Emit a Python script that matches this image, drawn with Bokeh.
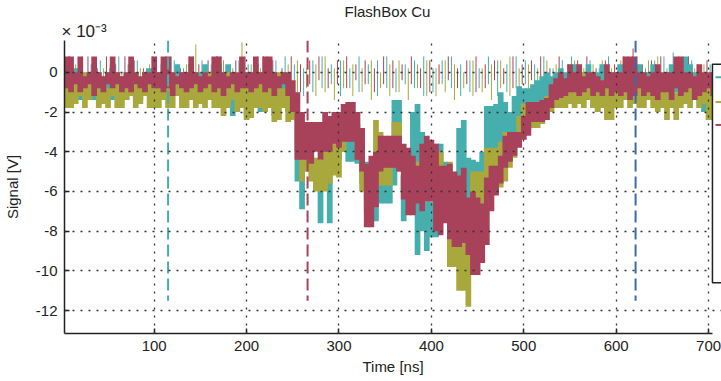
from bokeh.plotting import figure
from bokeh.models import Range1d, FixedTicker, Title
from bokeh.embed import file_html
from bokeh.resources import INLINE

# ---------------- data (signal in units of 1e-3 V) ----------------
time_ns = list(range(5, 706, 5))          # 5 ns bins
thin_time_ns = list(range(5, 706, 10))    # thin trace samples

teal_hi = [0.0, -0.4, 0.2, 0.0, -0.4, 0.0, 0.4, 0.0, -0.2, 0.0,
           0.4, 0.0, -0.2, 0.0, 0.4, 0.0, -0.4, 0.0, 0.2, 0.0,
           0.0, 0.4, 0.0, -0.2, 0.4, 0.0, 0.0, 0.4, -0.2, 0.0,
           0.4, 0.0, -0.2, 0.4, 0.0, 0.4, 0.0, -0.2, 0.4, 0.0,
           0.0, 0.4, 0.0, -0.2, 0.4, 0.0, -0.4, 0.0, -0.6, -1.0,
           -2.0, -3.5, -4.0, -4.2, -4.5, -5.0, -3.5, -4.5, -3.2, -3.0,
           -2.4, -2.7, -2.7, -2.8, -3.5, -4.5, -5.5, -5.5, -5.5, -5.5,
           -4.4, -1.4, -1.4, -5.2, -5.0, -2.0, -1.6, -3.0, -6.5, -6.5,
           -3.6, -3.6, -4.5, -8.6, -8.4, -2.8, -2.4, -4.3, -4.4, -4.5,
           -4.0, -1.7, -1.7, -1.6, -1.0, -1.5, -2.0, -1.2, -0.7, -0.8,
           -0.8, -0.6, -0.4, -0.2, 0.0, -0.2, 0.0, 0.2, 0.0, 0.0,
           0.4, 0.0, 0.0, 0.4, -0.2, 0.0, 0.4, 0.0, -0.2, 0.0,
           0.4, 0.0, 0.0, -0.2, 0.4, 0.0, 0.0, 0.4, 0.0, -0.2,
           0.0, 0.4, 0.0, 0.4, 0.8, 0.4, 0.0, -0.4, -0.6, -0.4,
           0.0]
teal_lo = [-1.2, -1.0, -1.4, -1.4, -1.4, -1.2, -1.4, -0.8, -1.2, -1.0,
           -1.4, -1.2, -1.0, -1.4, -1.2, -0.8, -1.4, -1.2, -1.0, -1.4,
           -1.2, -1.0, -1.4, -1.2, -1.0, -1.4, -1.2, -1.0, -1.4, -1.2,
           -1.0, -1.4, -1.2, -1.0, -1.4, -1.2, -2.2, -1.4, -1.2, -2.2,
           -1.4, -1.2, -2.0, -1.4, -1.2, -2.2, -1.4, -1.6, -2.0, -2.4,
           -5.5, -6.9, -5.0, -5.0, -5.6, -7.6, -5.2, -7.6, -5.0, -4.4,
           -4.0, -4.5, -4.5, -4.6, -5.6, -6.4, -7.5, -7.5, -6.6, -6.6,
           -6.6, -5.7, -5.0, -7.5, -7.0, -5.5, -9.2, -8.0, -9.0, -8.3,
           -8.3, -5.0, -7.0, -9.8, -9.8, -6.8, -6.0, -7.0, -7.0, -7.0,
           -6.0, -6.0, -4.0, -4.0, -4.0, -4.2, -4.5, -3.0, -2.8, -2.6,
           -2.0, -1.8, -1.6, -1.4, -1.4, -1.6, -1.4, -1.2, -1.4, -1.2,
           -1.2, -1.4, -1.0, -1.4, -1.8, -2.0, -1.4, -1.2, -1.4, -1.0,
           -1.4, -1.2, -1.0, -1.4, -1.2, -1.0, -1.4, -1.2, -1.4, -1.0,
           -1.2, -1.4, -1.0, -1.2, -1.4, -1.0, -1.4, -1.8, -2.0, -2.0,
           -1.8]

olive_hi = [-0.4, -0.2, -0.6, -0.4, 0.0, -0.4, -0.6, -0.2, -0.4, -0.8,
            -0.4, 0.0, -0.6, -0.4, -0.2, -0.6, -0.4, 0.0, -0.4, -0.6,
            -0.4, -0.2, -0.4, 0.0, -0.6, -0.4, -0.2, -0.4, 0.0, -0.6,
            -0.4, 0.0, -0.2, -0.6, -0.4, 0.0, -0.4, -0.6, 0.4, -0.2,
            -0.4, -0.2, 0.0, -0.4, -0.6, -0.4, 0.0, -0.8, -1.0, -1.2,
            -2.0, -4.0, -4.2, -4.3, -4.3, -4.4, -4.0, -4.0, -3.2, -3.2,
            -2.8, -2.5, -2.5, -2.6, -4.0, -4.8, -4.8, -2.4, -3.0, -4.0,
            -4.0, -2.5, -2.5, -5.2, -5.2, -4.5, -4.5, -4.5, -5.2, -4.5,
            -4.5, -4.0, -5.0, -4.5, -5.5, -8.6, -8.6, -7.0, -5.0, -5.0,
            -5.0, -3.8, -3.8, -3.8, -3.5, -3.0, -3.0, -3.0, -2.2, -1.6,
            -1.5, -1.5, -1.5, -1.4, -1.2, -0.8, -0.6, -0.4, -0.6, -0.4,
            -0.4, -0.6, 0.0, -0.4, -0.2, -0.6, -0.4, -0.8, -1.0, -0.4,
            -0.2, -0.4, 0.0, -0.6, -0.4, 0.0, -0.4, -0.2, -0.6, -0.4,
            -0.6, -0.4, -1.0, -0.2, -0.4, 0.0, -0.6, -0.4, -0.2, -0.6,
            -0.8]
olive_lo = [-1.8, -1.8, -1.6, -1.2, -1.8, -1.4, -1.2, -1.8, -1.6, -1.8,
            -1.2, -1.8, -1.8, -1.4, -1.2, -1.8, -1.6, -1.2, -1.8, -1.8,
            -1.8, -1.4, -1.8, -1.8, -1.2, -1.8, -1.8, -1.4, -1.8, -1.6,
            -1.8, -1.4, -1.8, -1.8, -2.2, -1.8, -1.4, -2.0, -1.8, -2.4,
            -2.3, -1.8, -1.8, -2.0, -1.8, -2.5, -2.4, -1.8, -2.5, -2.4,
            -4.0, -5.5, -5.0, -5.5, -6.0, -6.0, -6.0, -5.6, -5.2, -5.3,
            -4.0, -3.3, -3.4, -3.6, -6.0, -7.1, -7.1, -5.3, -5.7, -5.7,
            -5.7, -4.3, -4.4, -6.0, -6.0, -6.5, -6.5, -6.5, -6.5, -6.0,
            -6.0, -6.5, -7.5, -9.8, -9.8, -11.0, -11.0, -11.8, -8.0, -8.0,
            -7.5, -6.7, -6.0, -6.0, -5.8, -5.5, -4.8, -4.3, -3.5, -3.2,
            -2.9, -2.8, -2.8, -2.6, -2.4, -2.0, -1.8, -1.8, -1.8, -1.6,
            -1.8, -1.6, -1.8, -1.4, -1.8, -2.0, -1.8, -2.4, -2.4, -1.8,
            -1.8, -1.4, -1.8, -1.6, -1.8, -1.8, -1.4, -1.8, -2.0, -1.8,
            -2.4, -1.8, -2.4, -1.8, -1.6, -1.8, -1.4, -1.8, -1.6, -2.4,
            -2.4]

red_hi = [0.8, 0.8, 0.0, 0.8, -0.2, 0.0, 0.8, 0.0, -0.2, 0.0,
          0.8, 0.0, -0.2, 0.0, 0.8, 0.0, -0.2, 0.0, 0.0, 0.8,
          0.0, 0.8, 0.8, 0.0, -0.2, 0.0, 0.0, 0.8, 0.0, -0.2,
          0.0, -0.2, 0.8, 0.8, 0.0, -0.2, 0.0, 0.0, 0.8, 0.0,
          0.0, 0.8, 0.0, 0.8, 0.8, 0.0, -0.2, 0.0, 0.0, -0.4,
          -1.0, -2.0, -2.5, -2.5, -2.5, -2.5, -2.0, -2.2, -2.0, -2.0,
          -1.6, -1.5, -1.5, -2.0, -2.8, -4.6, -4.2, -4.0, -3.2, -3.2,
          -3.2, -3.2, -3.2, -3.6, -3.8, -4.2, -4.7, -3.6, -3.2, -3.4,
          -3.6, -4.7, -4.7, -4.6, -5.0, -5.2, -4.8, -6.3, -6.0, -6.3,
          -6.6, -5.3, -4.7, -4.7, -4.2, -3.2, -3.0, -3.0, -3.0, -2.2,
          -1.5, -1.5, -1.5, -1.4, -1.3, -0.6, -0.3, 0.0, -0.3, 0.4,
          0.0, 0.4, -0.2, 0.0, 0.0, -0.2, -0.4, 0.4, 0.0, 0.0,
          0.0, 0.8, 0.8, 0.8, 0.0, 0.0, -0.2, 0.0, 0.4, 0.0,
          0.0, 0.0, 0.8, 0.8, 0.0, 0.0, -0.2, 0.4, 0.0, 0.0,
          0.0]
red_lo = [-0.8, -1.0, -0.6, -1.0, -0.8, -0.6, -1.2, -0.8, -1.0, -0.6,
          -0.8, -0.6, -1.0, -0.8, -1.0, -0.6, -0.8, -1.0, -0.6, -0.8,
          -0.8, -1.0, -0.8, -1.2, -0.6, -0.8, -1.0, -0.8, -0.6, -1.0,
          -0.8, -0.6, -1.0, -0.8, -1.2, -0.8, -0.6, -1.0, -0.8, -0.8,
          -1.0, -0.8, -0.6, -1.0, -0.8, -1.2, -0.8, -0.6, -1.2, -2.0,
          -4.4, -4.4, -4.4, -4.6, -4.0, -4.4, -4.0, -4.0, -3.6, -3.8,
          -3.5, -3.5, -3.5, -4.4, -5.0, -7.8, -7.8, -6.8, -5.0, -4.8,
          -4.8, -4.8, -5.0, -6.4, -7.2, -7.2, -6.6, -7.0, -6.5, -6.5,
          -8.0, -8.2, -7.6, -8.4, -8.8, -8.8, -8.6, -9.2, -10.2, -10.2,
          -9.6, -8.7, -7.0, -6.2, -5.6, -4.8, -4.5, -4.2, -3.8, -3.4,
          -3.2, -2.5, -2.5, -2.5, -2.4, -1.8, -1.4, -1.3, -1.2, -1.0,
          -1.0, -1.2, -1.0, -0.8, -1.2, -1.0, -1.2, -0.8, -1.2, -1.0,
          -1.2, -1.0, -1.4, -1.2, -0.8, -1.2, -1.0, -1.2, -1.4, -1.0,
          -1.0, -1.4, -0.8, -1.2, -1.0, -0.8, -1.4, -1.2, -1.0, -0.8,
          -1.2]

teal_thin_hi = [0.6, 0.2, 0.8, 0.4, 0.6, 0.2, 0.8, 0.4, 0.6, 0.2,
                0.8, 0.4, 0.6, 0.2, 0.8, 0.6, 0.4, 0.8, 0.2, 0.6,
                0.4, 0.8, 0.2, 0.6, 0.8, 0.4, 0.2, 0.6, 0.8, 0.4,
                0.6, 0.2, 0.8, 0.4, 0.6, 0.8, 0.2, 0.4, 0.6, 0.8,
                0.2, 0.6, 0.8, 0.4, 0.6, 0.2, 0.8, 0.6, 0.4, 0.8,
                0.6, 0.4, 0.8, 0.2, 0.6, 0.8, 0.4, 0.6, 0.2, 0.8,
                0.4, 0.6, 0.8, 0.2, 0.6, 0.8, 1.0, 0.4, 0.6, 0.2,
                0.4]
teal_thin_lo = [-1.0, -0.8, -1.2, -0.6, -1.0, -0.8, -1.2, -0.6, -1.0, -0.8,
                -0.6, -1.0, -0.8, -1.2, -0.6, -1.0, -0.8, -1.2, -0.6, -1.0,
                -0.8, -1.2, -0.6, -1.0, -0.8, -0.6, -1.2, -1.0, -0.8, -0.6,
                -1.2, -0.8, -1.0, -0.6, -1.2, -0.8, -1.0, -0.6, -0.8, -1.2,
                -1.0, -0.6, -0.8, -1.2, -1.0, -0.8, -0.6, -1.2, -1.0, -0.8,
                -0.6, -1.0, -1.2, -0.8, -0.6, -1.0, -0.8, -1.2, -0.6, -1.0,
                -0.8, -1.2, -0.6, -1.0, -0.8, -1.2, -1.0, -0.6, -0.8, -1.0,
                -1.0]
olive_thin_hi = [0.2, 0.4, 0.0, 0.6, 0.2, 0.4, 0.0, 0.6, 0.2, 0.4,
                 0.0, 0.6, 0.2, 0.4, 1.4, 0.2, 0.4, 0.6, 0.2, 1.5,
                 0.4, 0.2, 0.6, 0.0, 0.4, 0.6, 0.2, 0.4, 0.8, 0.2,
                 0.6, 0.4, 0.2, 0.6, 0.0, 0.4, 0.6, 0.2, 0.4, 0.6,
                 0.2, 0.6, 0.4, 0.0, 0.6, 0.2, 0.4, 0.6, 0.8, 0.2,
                 0.4, 0.2, 0.6, 0.4, 0.0, 0.6, 0.2, 0.4, 0.6, 0.2,
                 0.6, 0.2, 0.4, 0.6, 0.8, 0.2, 0.4, 0.6, 0.2, 0.4,
                 0.2]
olive_thin_lo = [-1.2, -1.0, -1.4, -0.8, -1.2, -1.0, -1.4, -0.8, -1.2, -1.0,
                 -1.4, -0.8, -1.2, -1.0, -1.4, -0.8, -1.2, -1.0, -1.4, -0.8,
                 -1.0, -1.4, -0.8, -1.2, -1.0, -1.4, -0.8, -1.2, -1.0, -1.4,
                 -0.8, -1.2, -1.0, -1.4, -0.8, -1.2, -1.0, -1.4, -0.8, -1.2,
                 -1.2, -1.0, -1.4, -0.8, -1.2, -1.0, -1.4, -0.8, -1.2, -1.0,
                 -1.4, -0.8, -1.2, -1.0, -1.4, -0.8, -1.2, -1.0, -1.4, -0.8,
                 -1.0, -1.4, -0.8, -1.2, -1.0, -1.4, -0.8, -1.2, -1.0, -1.4,
                 -1.2]
red_thin_hi = [0.8, 0.6, 0.8, 0.2, 0.8, 0.4, 0.8, 0.6, 0.2, 0.8,
               0.6, 0.8, 0.2, 0.8, 0.4, 0.6, 0.8, 0.2, 0.6, 0.8,
               0.4, 0.8, 0.6, 0.2, 0.8, 0.4, 0.6, 0.8, 0.2, 0.6,
               0.8, 0.4, 0.6, 0.2, 0.8, 0.6, 0.4, 0.8, 0.2, 0.6,
               0.4, 0.8, 0.2, 0.6, 0.8, 0.4, 0.6, 0.2, 0.8, 0.4,
               0.6, 0.8, 0.2, 0.8, 0.4, 0.6, 0.8, 0.2, 0.6, 0.4,
               0.8, 1.2, 0.4, 0.6, 0.8, 0.2, 0.6, 0.8, 0.4, 0.6,
               0.2]
red_thin_lo = [-0.6, -0.8, -0.4, -0.8, -0.6, -0.8, -0.4, -0.6, -0.8, -0.6,
               -0.8, -0.4, -0.6, -0.8, -0.6, -0.4, -0.8, -0.6, -0.8, -0.4,
               -0.6, -0.8, -0.4, -0.6, -0.8, -1.0, -0.6, -0.4, -0.8, -0.6,
               -0.8, -0.4, -0.6, -1.0, -0.6, -0.8, -0.4, -0.6, -0.8, -1.0,
               -0.6, -0.4, -0.8, -0.6, -1.0, -0.8, -0.4, -0.6, -0.8, -0.6,
               -0.4, -0.8, -0.6, -0.8, -0.4, -0.6, -0.8, -1.0, -0.6, -0.8,
               -0.6, -0.4, -0.8, -0.6, -1.0, -0.8, -0.6, -0.4, -0.8, -0.6,
               -0.6]

marker_time_ns = [115, 266, 621]
marker_bottom = -11.5

x_ticks = [100, 200, 300, 400, 500, 600, 700]
y_ticks = [-12, -10, -8, -6, -4, -2, 0]
y_tick_labels = ["-12", "-10", "-8", "-6", "-4", "-2", "0"]

# ---------------- styles ----------------
TEAL = "#47AEAE"
OLIVE = "#A9A83C"
RED = "#A8425A"
BLUE = "#3A6CA6"
marker_colors = [TEAL, RED, BLUE]
FONT = "Liberation Sans"
INK = "#222222"
BIN_W = 6.2

p = figure(width=721, height=381, output_backend="svg", toolbar_location=None,
           title=None,
           x_range=Range1d(2.9, 714.0), y_range=Range1d(-13.15, 1.6),
           min_border_left=62, min_border_right=0, min_border_top=38,
           min_border_bottom=48, outline_line_color=None,
           background_fill_color="white", border_fill_color="white")

# thin traces (drawn under the thick ones)
thin_offsets = [-3.3, 0.0, 3.3]
for (hi, lo, c, off) in [(teal_thin_hi, teal_thin_lo, TEAL, thin_offsets[0]),
                         (olive_thin_hi, olive_thin_lo, OLIVE, thin_offsets[1]),
                         (red_thin_hi, red_thin_lo, RED, thin_offsets[2])]:
    xs = [t + off for t in thin_time_ns]
    p.segment(x0=xs, y0=lo, x1=xs, y1=hi, line_color=c, line_width=1)

# thick traces
for (hi, lo, c) in [(teal_hi, teal_lo, TEAL), (olive_hi, olive_lo, OLIVE), (red_hi, red_lo, RED)]:
    p.vbar(x=time_ns, width=BIN_W, top=hi, bottom=lo, fill_color=c, line_color=None)

# dashed markers
p.segment(x0=marker_time_ns, y0=[1.6] * 3, x1=marker_time_ns, y1=[marker_bottom] * 3,
          line_color=marker_colors, line_width=2, line_dash="12 5")

# axes
for ax in (p.xaxis, p.yaxis):
    ax.major_tick_in = 5
    ax.major_tick_out = 0
    ax.minor_tick_line_color = None
    ax.axis_line_color = INK
    ax.axis_line_width = 1.5
    ax.major_tick_line_color = INK
    ax.major_tick_line_width = 1.5
    ax.major_label_text_font = FONT
    ax.major_label_text_font_size = "15px"
    ax.major_label_text_color = INK
    ax.axis_label_text_font = FONT
    ax.axis_label_text_font_size = "15px"
    ax.axis_label_text_font_style = "normal"
    ax.axis_label_text_color = INK
p.xaxis.ticker = FixedTicker(ticks=x_ticks)
p.yaxis.ticker = FixedTicker(ticks=y_ticks)
p.yaxis.major_label_overrides = {v: s for v, s in zip(y_ticks, y_tick_labels)}
p.xaxis.bounds = (2.9, 704.5)
p.xaxis.axis_label = "Time [ns]"
p.yaxis.axis_label = "Signal [V]"
p.xaxis.major_label_standoff = 7
p.yaxis.major_label_standoff = 7
p.yaxis.axis_label_standoff = 12
p.xaxis.axis_label_standoff = 4

p.grid.grid_line_color = "#333333"
p.grid.grid_line_width = 1.3
p.grid.grid_line_dash = "2 6"
p.grid.level = "guide"

# legend box (cut off at right edge)
lg = p.quad(left=[704.2], right=[730], top=[0.4], bottom=[-10.6],
            fill_color="white", line_color=INK, line_width=1.5)
lg.level = "annotation"
ls = p.segment(x0=[707.5] * 3, x1=[716] * 3, y0=[-0.25, -1.5, -2.65], y1=[-0.25, -1.5, -2.65],
               line_color=[TEAL, OLIVE, RED], line_width=2)
ls.level = "annotation"

# exponent (nearest the frame) and title above it
p.add_layout(Title(text="\u00d7 10\u207b\u00b3", align="left", text_font=FONT,
                   text_font_size="17px", text_font_style="normal", text_color=INK,
                   standoff=0, offset=-3), "above")
p.add_layout(Title(text="FlashBox Cu", align="left", text_font=FONT,
                   text_font_size="15px", text_font_style="normal", text_color=INK,
                   standoff=0, offset=280), "above")

open("out.html", "w").write(file_html(p, INLINE))
